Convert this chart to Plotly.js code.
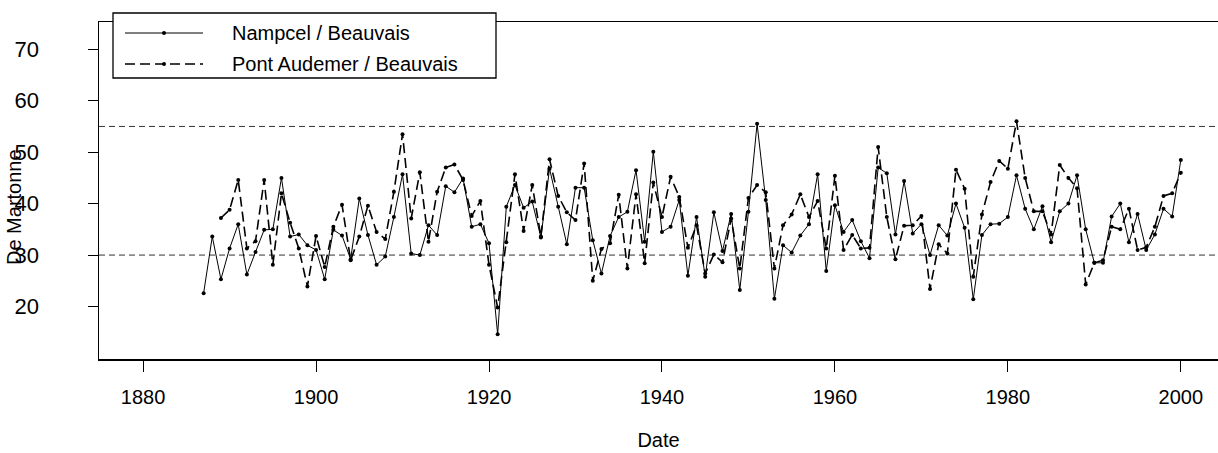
<!DOCTYPE html>
<html>
<head>
<meta charset="utf-8">
<script src="https://cdn.plot.ly/plotly-3.0.1.min.js"></script>
<style>html,body{margin:0;padding:0;background:#fff;}#chart{width:1218px;height:453px;}</style>
</head>
<body>
<div id="chart"></div>
<script>
// ---- data ----
const nampcelStart = 1887;
const nampcel = [
  22.6, 33.6, 25.3,                                              // 1887-1889
  31.3, 36.0, 26.2, 30.6, 34.9, 35.0, 45.0, 33.6, 34.0, 31.9,    // 1890s
  31.0, 25.3, 34.9, 33.8, 29.2, 41.0, 33.9, 28.1, 29.7, 37.4,    // 1900s
  45.7, 30.3, 30.0, 35.8, 33.9, 43.4, 42.2, 44.9, 35.5, 36.0,    // 1910s
  32.3, 14.6, 39.4, 43.6, 39.2, 40.4, 33.4, 46.8, 39.4, 32.1,    // 1920s
  43.1, 43.1, 32.9, 26.4, 33.7, 37.4, 38.4, 46.5, 32.6, 50.1,    // 1930s
  34.5, 35.5, 40.7, 26.0, 37.4, 25.8, 38.3, 30.8, 38.0, 23.2,    // 1940s
  38.4, 55.5, 40.7, 21.5, 31.9, 30.5, 33.8, 36.0, 45.7, 26.9,    // 1950s
  39.7, 34.5, 36.8, 32.7, 29.4, 47.0, 45.9, 34.0, 44.4, 34.2,    // 1960s
  36.0, 30.0, 35.8, 33.8, 40.0, 35.3, 21.4, 33.9, 36.0, 36.1,    // 1970s
  37.4, 45.5, 39.0, 35.0, 39.5, 32.5, 38.5, 40.0, 45.5, 35.0,    // 1980s
  28.5, 28.5, 37.5, 40.0, 32.5, 38.0, 31.0, 34.0, 39.0, 37.5,    // 1990s
  48.5                                                           // 2000
];
const pontStart = 1889;
const pontAudemer = [
  37.2,                                                          // 1889
  38.8, 44.6, 31.3, 32.7, 44.6, 28.1, 42.0, 36.3, 31.3, 23.9,    // 1890s
  33.7, 27.7, 35.5, 39.8, 29.0, 33.6, 39.6, 34.5, 33.1, 42.3,    // 1900s
  53.5, 37.1, 46.1, 32.6, 42.3, 47.0, 47.6, 44.6, 37.6, 40.5,    // 1910s
  28.1, 19.8, 32.5, 45.7, 34.7, 43.6, 33.6, 48.6, 41.5, 38.3,    // 1920s
  36.8, 47.8, 25.0, 31.2, 32.3, 41.7, 27.4, 41.8, 28.4, 44.1,    // 1930s
  37.4, 45.2, 41.3, 31.4, 35.8, 26.4, 30.1, 28.6, 37.1, 27.4,    // 1940s
  41.1, 43.6, 42.2, 27.4, 35.8, 37.9, 41.8, 37.4, 40.5, 31.3,    // 1950s
  45.4, 31.0, 33.9, 31.3, 31.4, 51.0, 37.4, 29.2, 35.7, 35.8,    // 1960s
  37.6, 23.4, 32.1, 30.3, 46.6, 42.9, 25.8, 37.9, 44.2, 48.3,    // 1970s
  46.8, 56.0, 45.0, 38.5, 38.5, 34.0, 47.5, 45.0, 43.0, 24.3,    // 1980s
  28.5, 29.0, 35.5, 35.0, 39.0, 31.0, 31.5, 35.5, 41.5, 42.0,    // 1990s
  46.0                                                           // 2000
];
const seriesNames = ["Nampcel / Beauvais", "Pont Audemer / Beauvais"];
const refLevels = [55, 30];
const xTicks = [1880, 1900, 1920, 1940, 1960, 1980, 2000];
const yTicks = [20, 30, 40, 50, 60, 70];
const xTitle = "Date", yTitle = "De Martonne";

const nampcelYears = nampcel.map((_, i) => nampcelStart + i);
const pontYears = pontAudemer.map((_, i) => pontStart + i);

// ---- geometry ----
const W = 1218, H = 453;
const M = {l: 99, r: 0, t: 22, b: 94};
const PW = W - M.l - M.r, PH = H - M.t - M.b;
const px2x = p => (p - M.l) / PW;
const px2y = p => (H - M.b - p) / PH;
const FONT = "Liberation Sans, Arial, Helvetica, sans-serif";

const traces = [
  {x: nampcelYears, y: nampcel, name: seriesNames[0], type: "scatter", mode: "lines+markers",
   line: {color: "#000", width: 1}, marker: {color: "#000", size: 4}, showlegend: false},
  {x: pontYears, y: pontAudemer, name: seriesNames[1], type: "scatter", mode: "lines+markers",
   line: {color: "#000", width: 1.6, dash: "10px,5px"}, marker: {color: "#000", size: 4}, showlegend: false}
];

const shapes = refLevels.map(v => ({
  type: "line", xref: "paper", yref: "y", x0: 0, x1: 1, y0: v, y1: v,
  line: {color: "#333", width: 1, dash: "6px,4px"}, layer: "below"
}));

// custom legend (box, samples, labels)
const lg = {x0: 113, x1: 496, y0: 13, y1: 78, rows: [33, 64], s0: 125, s1: 203, tx: 230};
shapes.push({type: "rect", xref: "paper", yref: "paper",
  x0: px2x(lg.x0), x1: px2x(lg.x1), y0: px2y(lg.y1), y1: px2y(lg.y0),
  line: {color: "#000", width: 1.3}, fillcolor: "#fff", layer: "above"});
const annotations = [];
lg.rows.forEach((ry, i) => {
  shapes.push({type: "line", xref: "paper", yref: "paper",
    x0: px2x(lg.s0), x1: px2x(lg.s1), y0: px2y(ry), y1: px2y(ry),
    line: {color: "#000", width: i === 0 ? 1.2 : 1.6, dash: i === 0 ? "solid" : "10px,5px"}, layer: "above"});
  shapes.push({type: "circle", xref: "paper", yref: "paper", xsizemode: "pixel", ysizemode: "pixel",
    xanchor: px2x((lg.s0 + lg.s1) / 2), yanchor: px2y(ry), x0: -2, x1: 2, y0: -2, y1: 2,
    fillcolor: "#000", line: {color: "#000", width: 0}, layer: "above"});
  annotations.push({xref: "paper", yref: "paper", x: px2x(lg.tx), y: px2y(ry), xanchor: "left", yanchor: "middle",
    text: seriesNames[i], showarrow: false, font: {family: FONT, size: 20, color: "#000"}});
});
// y-axis title placed at its pixel position
annotations.push({xref: "paper", yref: "paper", x: px2x(14), y: px2y(207), xanchor: "center", yanchor: "middle",
  text: yTitle, textangle: -90, showarrow: false, font: {family: FONT, size: 20, color: "#000"}});

const layout = {
  width: W, height: H, margin: M,
  paper_bgcolor: "#fff", plot_bgcolor: "#fff",
  font: {family: FONT, size: 20, color: "#000"},
  showlegend: false,
  xaxis: {range: [1874.9, 2004.3], tickvals: xTicks, ticks: "outside", ticklen: 11, tickwidth: 1,
    tickcolor: "#000", showgrid: false, zeroline: false, showline: true, linecolor: "#000", linewidth: 1.5,
    mirror: true, ticklabelstandoff: 8, tickfont: {family: FONT, size: 20},
    title: {text: xTitle, font: {family: FONT, size: 20}, standoff: 26}},
  yaxis: {range: [9.8, 75.3], tickvals: yTicks, ticks: "outside", ticklen: 10, tickwidth: 1,
    tickcolor: "#000", showgrid: false, zeroline: false, showline: true, linecolor: "#000", linewidth: 1.5,
    mirror: false, ticklabelstandoff: 44, tickfont: {family: FONT, size: 22}},
  shapes: shapes, annotations: annotations
};

Plotly.newPlot("chart", traces, layout, {displayModeBar: false, staticPlot: true});
</script>
</body>
</html>
